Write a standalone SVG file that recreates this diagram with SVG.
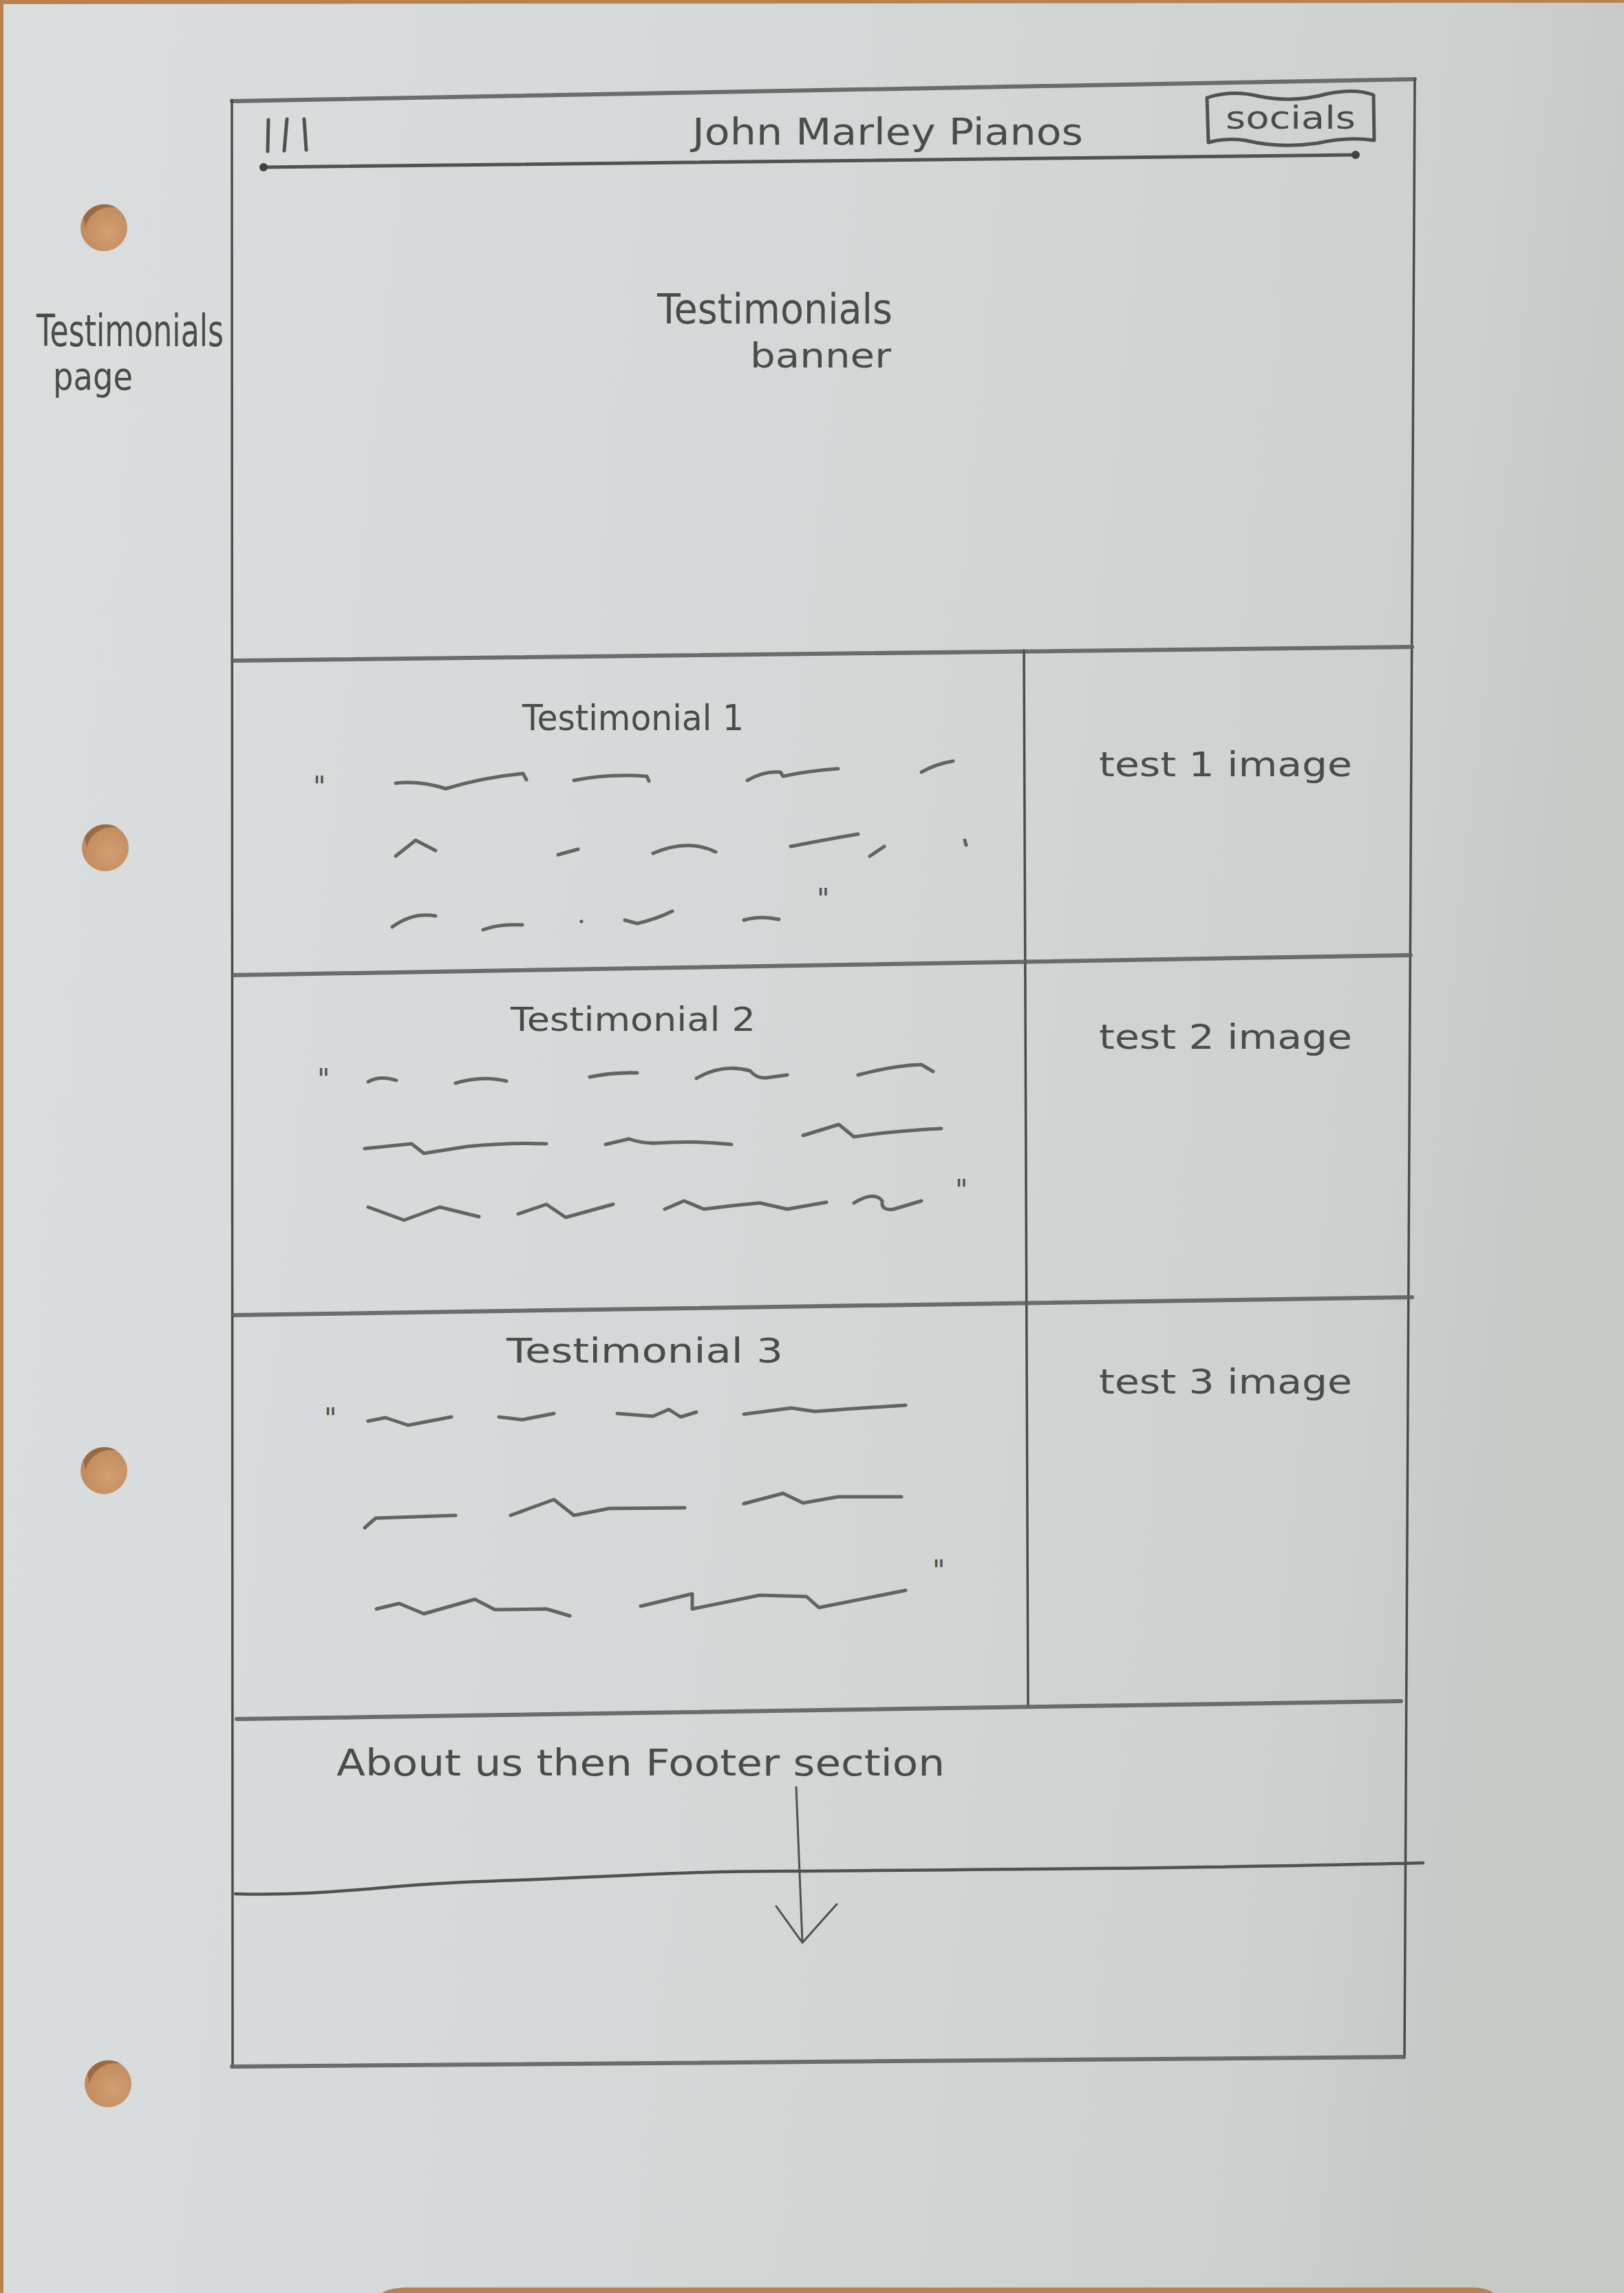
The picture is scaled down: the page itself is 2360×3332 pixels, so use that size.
<svg xmlns="http://www.w3.org/2000/svg" width="2360" height="3332" viewBox="0 0 2360 3332">
  <defs>
    <linearGradient id="paper" x1="0" y1="0" x2="1" y2="0.15">
      <stop offset="0" stop-color="#dadedf"/>
      <stop offset="0.5" stop-color="#d4d8d8"/>
      <stop offset="0.9" stop-color="#cdd0cf"/>
      <stop offset="1" stop-color="#c6c8c6"/>
    </linearGradient>
    <radialGradient id="holeFill" cx="0.6" cy="0.6" r="0.6">
      <stop offset="0" stop-color="#d3a073"/>
      <stop offset="1" stop-color="#c08a5c"/>
    </radialGradient>
    <style>
      .pen { fill: none; stroke: #505252; stroke-linecap: round; stroke-linejoin: round; }
      .rule { fill: none; stroke: #5e6060; stroke-width: 6; stroke-linecap: round; opacity: 0.9; }
      .edge { fill: none; stroke: #4a4c4c; stroke-width: 3.5; stroke-linecap: round; }
      .scrib { fill: none; stroke: #555757; stroke-width: 5; stroke-linecap: round; stroke-linejoin: round; opacity: 0.9; }
      .hand { font-family: "DejaVu Sans", "Liberation Sans", sans-serif; fill: #4a4c4c; }
      .quote { font-family: "DejaVu Sans", "Liberation Sans", sans-serif; fill: #4f5151; font-size: 40px; }
    </style>
  </defs>

  <!-- desk showing round the sheet -->
  <rect x="0" y="0" width="2360" height="3332" fill="#b88250"/>
  <!-- sheet of paper -->
  <path d="M5,6 L2360,4 L2360,3332 L2170,3332 Q2160,3324 2140,3324 L590,3324 Q565,3325 555,3332 L5,3332 Z" fill="url(#paper)"/>

  <!-- punched holes -->
  <g id="holes">
    <circle cx="151" cy="331" r="34" fill="url(#holeFill)"/>
    <path d="M121,316 A34,34 0 0 1 170,302 A38,38 0 0 0 124,330 Z" fill="#8c5b38" opacity="0.7"/>
    <circle cx="153" cy="1232" r="34" fill="url(#holeFill)"/>
    <path d="M123,1217 A34,34 0 0 1 172,1203 A38,38 0 0 0 126,1231 Z" fill="#8c5b38" opacity="0.7"/>
    <circle cx="151" cy="2137" r="34" fill="url(#holeFill)"/>
    <path d="M121,2122 A34,34 0 0 1 170,2108 A38,38 0 0 0 124,2136 Z" fill="#8c5b38" opacity="0.7"/>
    <circle cx="157" cy="3028" r="34" fill="url(#holeFill)"/>
    <path d="M127,3013 A34,34 0 0 1 176,2999 A38,38 0 0 0 130,3027 Z" fill="#8c5b38" opacity="0.7"/>
  </g>

  <!-- page title in the margin -->
  <g id="page-label">
    <text class="hand" x="53" y="503" font-size="64" textLength="272" lengthAdjust="spacingAndGlyphs" fill="#5c5e5e">Testimonials</text>
    <text class="hand" x="77" y="566" font-size="56" textLength="116" lengthAdjust="spacingAndGlyphs" fill="#5c5e5e">page</text>
  </g>

  <!-- outer frame of the page -->
  <g id="page-frame">
    <path class="rule" d="M337,147 L2056,115" stroke-width="8"/>
    <path class="edge" d="M337,145 L338,3003"/>
    <path class="edge" d="M2056,115 L2041,2990"/>
    <path class="rule" d="M337,3003 L2040,2989" stroke-width="8"/>
  </g>

  <!-- header bar -->
  <g id="header">
    <path class="pen" stroke-width="5" d="M390,174 L389,220 M417,173 L413,219 M442,173 L445,218"/>
    <text class="hand" x="1006" y="210" font-size="54" textLength="568" lengthAdjust="spacingAndGlyphs">John Marley Pianos</text>
    <path class="pen" stroke-width="5" d="M383,243 L1970,225"/>
    <circle cx="383" cy="243" r="6" fill="#404242"/>
    <circle cx="1970" cy="225" r="6" fill="#404242"/>
  </g>

  <g id="socials">
    <path class="pen" stroke-width="5" d="M1754,142 Q1790,130 1830,140 Q1880,150 1930,136 Q1970,128 1996,138 L1997,204 Q1960,198 1915,208 Q1860,216 1810,204 Q1780,200 1756,207 Z"/>
    <text class="hand" x="1781" y="187" font-size="46" textLength="189" lengthAdjust="spacingAndGlyphs">socials</text>
  </g>

  <!-- hero banner -->
  <g id="banner">
    <text class="hand" x="955" y="470" font-size="60" textLength="342" lengthAdjust="spacingAndGlyphs">Testimonials</text>
    <text class="hand" x="1090" y="534" font-size="50" textLength="205" lengthAdjust="spacingAndGlyphs">banner</text>
    <path class="rule" d="M338,960 L2052,940"/>
  </g>

  <!-- column split between quote and picture -->
  <path id="column-divider" class="edge" stroke-width="3" d="M1488,945 L1494,2480"/>

  <!-- testimonial 1 -->
  <g id="testimonial-1">
    <text class="hand" x="759" y="1061" font-size="52" textLength="322" lengthAdjust="spacingAndGlyphs">Testimonial 1</text>
    <text class="quote" x="455" y="1157">"</text>
    <path class="scrib" d="M575,1138 Q610,1134 648,1146 Q700,1130 760,1124 L765,1133"/>
    <path class="scrib" d="M834,1134 Q885,1124 940,1128 L943,1135"/>
    <path class="scrib" d="M1086,1134 Q1110,1120 1134,1122 L1138,1128 Q1175,1120 1218,1117"/>
    <path class="scrib" d="M1339,1122 Q1360,1110 1385,1106"/>
    <path class="scrib" d="M575,1244 L604,1221 L633,1236"/>
    <path class="scrib" d="M811,1242 L840,1234"/>
    <path class="scrib" d="M949,1240 Q1000,1218 1040,1238"/>
    <path class="scrib" d="M1149,1230 Q1200,1220 1247,1212"/>
    <path class="scrib" d="M1264,1244 L1285,1230"/>
    <path class="scrib" d="M1402,1221 L1404,1228"/>
    <path class="scrib" d="M570,1347 Q600,1325 633,1331"/>
    <path class="scrib" d="M702,1351 Q725,1342 759,1344"/>
    <circle cx="845" cy="1339" r="2.5" fill="#555757"/>
    <path class="scrib" d="M908,1337 L926,1342 Q955,1335 977,1324"/>
    <path class="scrib" d="M1081,1337 Q1105,1330 1132,1336"/>
    <text class="quote" x="1187" y="1320">"</text>
    <text class="hand" x="1597" y="1128" font-size="50" textLength="368" lengthAdjust="spacingAndGlyphs">test 1 image</text>
    <path class="rule" d="M340,1417 L2050,1388"/>
  </g>

  <!-- testimonial 2 -->
  <g id="testimonial-2">
    <text class="hand" x="742" y="1498" font-size="48" textLength="356" lengthAdjust="spacingAndGlyphs">Testimonial 2</text>
    <text class="quote" x="461" y="1582">"</text>
    <path class="scrib" d="M535,1572 Q552,1562 576,1570"/>
    <path class="scrib" d="M662,1574 Q700,1562 736,1571"/>
    <path class="scrib" d="M857,1565 Q890,1558 926,1559"/>
    <path class="scrib" d="M1012,1567 Q1050,1545 1090,1556 Q1100,1568 1115,1566 L1144,1562"/>
    <path class="scrib" d="M1247,1562 Q1300,1548 1339,1547 L1356,1557"/>
    <path class="scrib" d="M530,1669 L598,1662 L616,1676 L679,1666 Q740,1660 794,1662"/>
    <path class="scrib" d="M880,1663 L914,1655 Q935,1662 954,1661 Q1010,1657 1063,1663"/>
    <path class="scrib" d="M1167,1650 L1219,1634 L1241,1652 Q1300,1643 1368,1640"/>
    <path class="scrib" d="M535,1754 L587,1773 L639,1754 L696,1768"/>
    <path class="scrib" d="M753,1764 L794,1750 L822,1769 L891,1750"/>
    <path class="scrib" d="M966,1757 L994,1745 L1023,1757 L1064,1752 L1104,1748 L1144,1757 L1201,1747"/>
    <path class="scrib" d="M1241,1748 Q1270,1730 1282,1745 Q1280,1760 1299,1757 L1339,1745"/>
    <text class="quote" x="1388" y="1743">"</text>
    <text class="hand" x="1597" y="1524" font-size="50" textLength="368" lengthAdjust="spacingAndGlyphs">test 2 image</text>
    <path class="rule" d="M340,1911 L2052,1885"/>
  </g>

  <!-- testimonial 3 -->
  <g id="testimonial-3">
    <text class="hand" x="736" y="1980" font-size="50" textLength="402" lengthAdjust="spacingAndGlyphs">Testimonial 3</text>
    <text class="quote" x="471" y="2075">"</text>
    <path class="scrib" d="M535,2065 L560,2060 L593,2071 L656,2059"/>
    <path class="scrib" d="M725,2059 L759,2063 L805,2054"/>
    <path class="scrib" d="M897,2054 L949,2058 L972,2048 L989,2059 L1012,2052"/>
    <path class="scrib" d="M1081,2055 L1150,2046 L1184,2051 Q1250,2046 1316,2042"/>
    <path class="scrib" d="M530,2220 L546,2206 L576,2205 L662,2202"/>
    <path class="scrib" d="M742,2202 L805,2179 L834,2202 L885,2192 L995,2191"/>
    <path class="scrib" d="M1081,2185 L1138,2170 L1167,2184 L1218,2175 L1310,2175"/>
    <path class="scrib" d="M547,2338 L580,2330 L616,2345 L690,2324 L719,2339 L794,2338 L828,2348"/>
    <path class="scrib" d="M931,2334 L1006,2316 L1006,2338 L1104,2318 L1172,2320 L1190,2336 L1316,2311"/>
    <text class="quote" x="1355" y="2296">"</text>
    <text class="hand" x="1597" y="2025" font-size="50" textLength="368" lengthAdjust="spacingAndGlyphs">test 3 image</text>
    <path class="rule" d="M344,2498 L2036,2472"/>
  </g>

  <!-- about us and footer -->
  <g id="footer">
    <text class="hand" x="489" y="2580" font-size="54" textLength="884" lengthAdjust="spacingAndGlyphs">About us   then   Footer section</text>
    <path class="pen" stroke="#6a6c6c" stroke-width="4.5" d="M342,2752 C480,2756 560,2738 700,2734 C880,2728 1000,2718 1161,2719 C1500,2716 1800,2714 2068,2707"/>
  </g>

  <g id="connectors">
    <path class="pen" stroke-width="3" d="M1157,2597 L1166,2822"/>
    <path class="pen" stroke-width="3" d="M1128,2770 L1166,2823 L1216,2767"/>
  </g>
</svg>
